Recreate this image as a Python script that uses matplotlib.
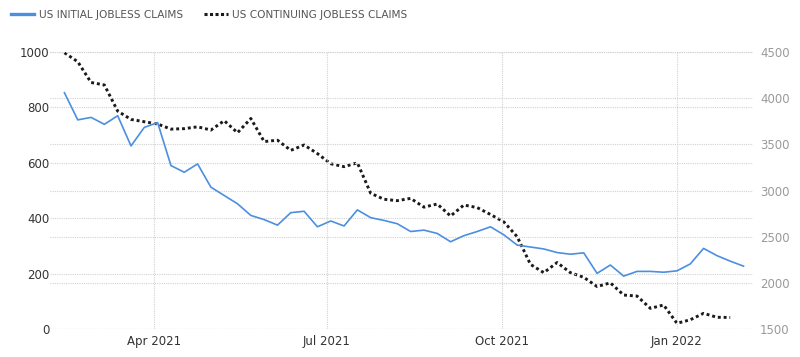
import matplotlib
matplotlib.use("Agg")
import matplotlib.pyplot as plt
import pandas as pd
from matplotlib.lines import Line2D

initial_claims = [853, 755, 764, 739, 770, 661, 728, 745, 590, 566,
                  596, 512, 482, 452, 410, 395, 375, 420, 425, 369,
                  390, 372, 430, 402, 392, 380, 352, 357, 345, 315,
                  337, 352, 369, 340, 303, 296, 289, 276, 270, 275,
                  201, 231, 191, 208, 208, 205, 210, 235, 291, 265,
                  245, 227]
continuing_claims = [4492, 4395, 4170, 4143, 3860, 3770, 3745, 3720, 3665, 3670,
                     3690, 3655, 3756, 3626, 3780, 3530, 3545, 3435, 3493, 3400,
                     3290, 3258, 3300, 2970, 2905, 2890, 2915, 2820, 2854, 2724,
                     2843, 2815, 2740, 2660, 2500, 2200, 2110, 2220, 2110, 2060,
                     1960, 2000, 1868, 1857, 1724, 1760, 1562, 1600, 1670, 1627,
                     1625]
start_week = "2021-02-13"
dates_initial = pd.date_range(start_week, periods=len(initial_claims), freq="7D")
dates_cont = pd.date_range(start_week, periods=len(continuing_claims), freq="7D")

left_ticks = [0, 200, 400, 600, 800, 1000]
right_ticks = [1500, 2000, 2500, 3000, 3500, 4000, 4500]
x_ticks = ["2021-04-01", "2021-07-01", "2021-10-01", "2022-01-01"]
x_labels = ["Apr 2021", "Jul 2021", "Oct 2021", "Jan 2022"]
legend_labels = ["US INITIAL JOBLESS CLAIMS", "US CONTINUING JOBLESS CLAIMS"]

blue = "#4a8fe0"
dark = "#1a1a1a"
gridc = "#d2d2d2"
gls = (0, (1, 1))

fig = plt.figure(figsize=(8, 3.57), dpi=100)
ax = fig.add_axes([0.0625, 0.0784, 0.8788, 0.7759])
ax2 = ax.twinx()

ax2.plot(dates_cont, continuing_claims, color=dark, lw=2.1, linestyle=(0, (1, 1)),
         dash_capstyle="butt", solid_joinstyle="round", zorder=3)
ax.plot(dates_initial, initial_claims, color=blue, lw=1.2, zorder=4,
        solid_joinstyle="round")

ax.set_zorder(ax2.get_zorder() + 1)
ax.patch.set_visible(False)

ax.set_ylim(0, 1000)
ax2.set_ylim(1500, 4500)
ax.set_yticks(left_ticks)
ax2.set_yticks(right_ticks)
ax.set_xlim(pd.Timestamp("2021-02-05 10:00"), pd.Timestamp("2022-02-10"))
ax.set_xticks([pd.Timestamp(d) for d in x_ticks])
ax.set_xticklabels(x_labels)

for a in (ax, ax2):
    for s in a.spines.values():
        s.set_visible(False)
    a.tick_params(length=0)

ax.tick_params(axis="y", labelsize=8.5, labelcolor="#333333", pad=0.5)
ax.tick_params(axis="x", labelsize=8.5, labelcolor="#333333", pad=4)
ax2.tick_params(axis="y", labelsize=8.5, labelcolor="#9a9a9a", pad=5)

ax.grid(True, axis="both", color=gridc, lw=0.8, linestyle=gls)
ax2.grid(True, axis="y", color=gridc, lw=0.8, linestyle=gls)
ax.set_axisbelow(True)
ax2.set_axisbelow(True)

handles = [Line2D([], [], color=blue, lw=2.4),
           Line2D([], [], color=dark, lw=2.2, linestyle=(0, (1, 0.8)))]
fig.legend(handles, legend_labels, loc="upper left", bbox_to_anchor=(0.002, 1.0),
           ncol=2, frameon=False, fontsize=7.6, labelcolor="#555555",
           handlelength=2.2, handletextpad=0.45, columnspacing=2.0)

fig.savefig("out.png", dpi=100)
